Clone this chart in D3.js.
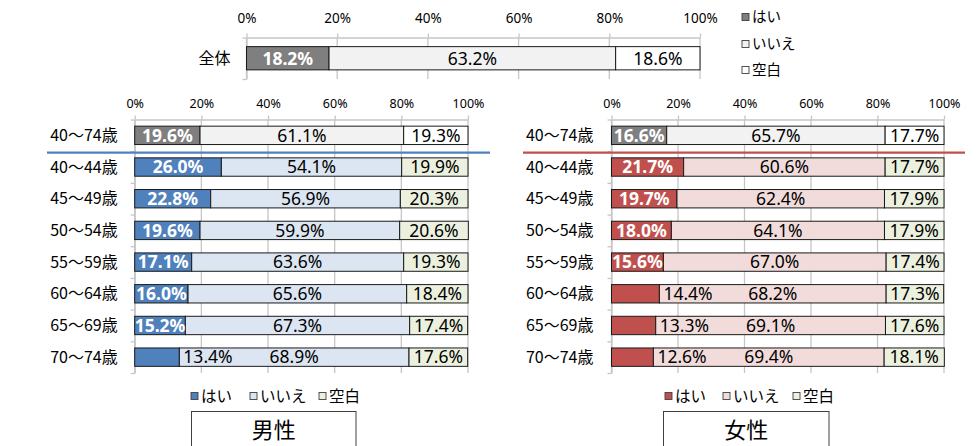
<!DOCTYPE html>
<html>
<head>
<meta charset="utf-8">
<script src="https://cdn.jsdelivr.net/npm/d3@7"></script>
<style>
  html, body { margin: 0; padding: 0; background: #fff; }
  svg { display: block; }
</style>
</head>
<body>
<svg id="chart" width="978" height="446"></svg>
<script>
// ---- data ----
const ticks = [0, 20, 40, 60, 80, 100];
const seriesNames = ["はい", "いいえ", "空白"];

const totalCats = ["全体"];
const totalYes = [18.2];
const totalNo = [63.2];
const totalBlank = [18.6];

const ageCats = ["40〜74歳", "40〜44歳", "45〜49歳", "50〜54歳", "55〜59歳", "60〜64歳", "65〜69歳", "70〜74歳"];
const maleYes   = [19.6, 26.0, 22.8, 19.6, 17.1, 16.0, 15.2, 13.4];
const maleNo    = [61.1, 54.1, 56.9, 59.9, 63.6, 65.6, 67.3, 68.9];
const maleBlank = [19.3, 19.9, 20.3, 20.6, 19.3, 18.4, 17.4, 17.6];
const femaleYes   = [16.6, 21.7, 19.7, 18.0, 15.6, 14.4, 13.3, 12.6];
const femaleNo    = [65.7, 60.6, 62.4, 64.1, 67.0, 68.2, 69.1, 69.4];
const femaleBlank = [17.7, 17.7, 17.9, 17.9, 17.4, 17.3, 17.6, 18.1];

const panelTitles = ["男性", "女性"];

// ---- palettes ----
const grayFill   = ["#7f7f7f", "#f2f2f2", "#ffffff"];
const maleFill   = ["#4f81bd", "#dce6f2", "#ebf1de"];
const femaleFill = ["#c0504d", "#f2dcdb", "#ebf1de"];

const LATIN = "'Noto Sans', 'DejaVu Sans', sans-serif";
const JP = "'Noto Sans CJK JP', 'Noto Sans', sans-serif";
const svg = d3.select("#chart");

function drawPanel(cfg) {
  const g = svg.append("g");
  const n = cfg.cats.length;
  const x = d3.scaleLinear().domain([0, 100]).range([cfg.x0, cfg.x1]);
  const y = d3.scaleBand().domain(cfg.cats).range([cfg.y0, cfg.y1])
    .paddingInner(cfg.pad).paddingOuter(cfg.pad / 2);
  const yEdge = d3.scaleLinear().domain([0, n]).range([cfg.y0, cfg.y1]);

  // vertical gridlines
  g.append("g").selectAll("line").data(ticks).join("line")
    .attr("x1", d => x(d)).attr("x2", d => x(d))
    .attr("y1", cfg.y0).attr("y2", cfg.y1)
    .attr("stroke", "#c6c6c6").attr("stroke-width", 1.3);

  // value axis along the top
  const ax = g.append("g").attr("transform", `translate(0,${cfg.y0})`)
    .call(d3.axisTop(x).tickValues(ticks).tickFormat(d => d + "%")
      .tickSizeInner(4).tickSizeOuter(0).tickPadding(cfg.tickPad));
  ax.select(".domain").attr("stroke", "#c6c6c6").attr("stroke-width", 1.3);
  ax.selectAll(".tick line").attr("stroke", "#c6c6c6").attr("stroke-width", 1.3);
  ax.selectAll(".tick text").attr("font-family", LATIN)
    .attr("font-size", cfg.tickFont).attr("fill", "#000");

  // category axis with ticks on band edges
  const ay = g.append("g").attr("transform", `translate(${cfg.x0},0)`)
    .call(d3.axisLeft(yEdge).tickValues(d3.range(n + 1)).tickFormat("")
      .tickSizeInner(4).tickSizeOuter(0));
  ay.select(".domain").attr("stroke", "#c6c6c6").attr("stroke-width", 1.3);
  ay.selectAll(".tick line").attr("stroke", "#c6c6c6").attr("stroke-width", 1.3);

  // category labels
  g.append("g").selectAll("text").data(cfg.cats).join("text")
    .attr("x", cfg.x0 - cfg.catGap)
    .attr("y", d => y(d) + y.bandwidth() / 2)
    .attr("dy", "0.35em")
    .attr("text-anchor", "end")
    .attr("font-family", JP).attr("font-size", cfg.catFont).attr("fill", "#000")
    .text(d => d);

  // stacked segments
  const segs = cfg.cats.flatMap((c, i) => {
    const vals = [cfg.yes[i], cfg.no[i], cfg.blank[i]];
    let acc = 0;
    return vals.map((v, k) => {
      const s = { cat: c, row: i, k, v, a: acc, b: acc + v };
      acc += v;
      return s;
    });
  });
  const fillOf = s => (s.row === 0 && cfg.firstRowGray ? grayFill : cfg.fill)[s.k];

  g.append("g").selectAll("rect").data(segs).join("rect")
    .attr("x", s => x(s.a))
    .attr("y", s => y(s.cat))
    .attr("width", s => x(s.b) - x(s.a))
    .attr("height", y.bandwidth())
    .attr("fill", fillOf)
    .attr("stroke", "#1a1a1a").attr("stroke-width", 1);

  // value labels: white bold inside the "はい" bar, plain black elsewhere;
  // short "はい" bars get their label just past the bar end
  g.append("g").selectAll("text").data(segs).join("text")
    .each(function (s) {
      const t = d3.select(this);
      const inside = !(s.k === 0 && s.v < 15);
      const white = s.k === 0 && inside;
      t.attr("x", inside ? (x(s.a) + x(s.b)) / 2 : x(s.b) + 4)
        .attr("text-anchor", inside ? "middle" : "start")
        .attr("font-weight", white ? "bold" : "normal")
        .attr("fill", white ? "#fff" : "#000");
    })
    .attr("y", s => y(s.cat) + y.bandwidth() / 2)
    .attr("dy", "0.36em")
    .attr("font-family", LATIN).attr("font-size", cfg.valFont)
    .text(s => s.v.toFixed(1) + "%");

  return { x, y, yEdge };
}

function drawLegend(cfg) {
  const g = svg.append("g");
  const items = g.selectAll("g").data(seriesNames).join("g")
    .attr("transform", (d, i) => `translate(${cfg.xs[i]},${cfg.ys[i]})`);
  items.append("rect")
    .attr("x", 0).attr("y", -3.5).attr("width", 7).attr("height", 7)
    .attr("fill", (d, i) => cfg.fill[i])
    .attr("stroke", "#404040").attr("stroke-width", 0.9);
  items.append("text")
    .attr("x", 10).attr("y", 0).attr("dy", "0.36em")
    .attr("font-family", JP).attr("font-size", cfg.font).attr("fill", "#000")
    .text(d => d);
}

function drawTitle(x0, x1, top, label) {
  svg.append("rect").attr("x", x0).attr("y", top).attr("width", x1 - x0).attr("height", 60)
    .attr("fill", "#fff").attr("stroke", "#404040").attr("stroke-width", 1);
  svg.append("text").attr("x", (x0 + x1) / 2).attr("y", top + 19).attr("dy", "0.36em")
    .attr("text-anchor", "middle").attr("font-family", JP).attr("font-size", 22)
    .attr("fill", "#000").text(label);
}

// ---- overall bar ----
drawPanel({
  cats: totalCats, yes: totalYes, no: totalNo, blank: totalBlank,
  fill: grayFill, firstRowGray: true,
  x0: 246.5, x1: 700, y0: 37.5, y1: 79, pad: 0.44,
  tickPad: 11, tickFont: 13.5, catFont: 16, catGap: 16, valFont: 17.5
});
drawLegend({ xs: [742, 742, 742], ys: [17, 44, 70], fill: grayFill, font: 14.5 });

// ---- male ----
const male = drawPanel({
  cats: ageCats, yes: maleYes, no: maleNo, blank: maleBlank,
  fill: maleFill, firstRowGray: true,
  x0: 134.7, x1: 468, y0: 119.5, y1: 373, pad: 0.42,
  tickPad: 7.5, tickFont: 12.5, catFont: 16, catGap: 17, valFont: 17.5
});
svg.append("line")
  .attr("x1", 47).attr("x2", 490)
  .attr("y1", male.yEdge(1) + 1.5).attr("y2", male.yEdge(1) + 1.5)
  .attr("stroke", "#4f81bd").attr("stroke-width", 2.2);
drawLegend({ xs: [191, 250, 319], ys: [396, 396, 396], fill: maleFill, font: 15.5 });
drawTitle(191.5, 356, 411.5, panelTitles[0]);

// ---- female ----
const female = drawPanel({
  cats: ageCats, yes: femaleYes, no: femaleNo, blank: femaleBlank,
  fill: femaleFill, firstRowGray: true,
  x0: 611.5, x1: 944, y0: 119.5, y1: 373, pad: 0.42,
  tickPad: 7.5, tickFont: 12.5, catFont: 16, catGap: 18, valFont: 17.5
});
svg.append("line")
  .attr("x1", 523).attr("x2", 965)
  .attr("y1", female.yEdge(1) + 1.5).attr("y2", female.yEdge(1) + 1.5)
  .attr("stroke", "#c0504d").attr("stroke-width", 2.2);
drawLegend({ xs: [665, 723, 793], ys: [396, 396, 396], fill: femaleFill, font: 15.5 });
drawTitle(663.5, 829, 411.5, panelTitles[1]);
</script>
</body>
</html>
